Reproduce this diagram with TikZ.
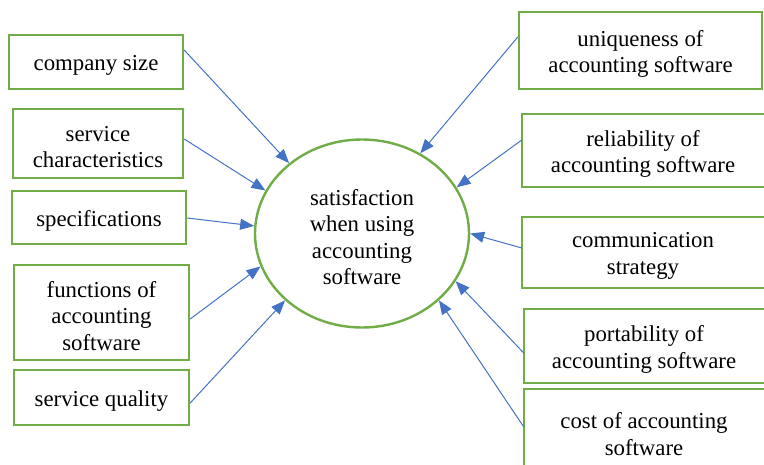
\documentclass[tikz,border=0pt]{standalone}
\usepackage{fontspec}
\setmainfont{Liberation Serif}
\usetikzlibrary{arrows.meta,shapes.geometric}
\definecolor{boxgreen}{HTML}{70AD47}
\definecolor{arrowblue}{HTML}{4472C4}
\begin{document}
\begin{tikzpicture}[x=1pt,y=-1pt,
  lbl/.style={font=\fontsize{22.8}{26.3}\selectfont, align=center, inner sep=0pt},
  txt/.style={label={[lbl,yshift=-3.5pt]center:#1}},
  box/.style={draw=boxgreen, line width=2.4pt, inner sep=0pt},
  slot/.style={inner sep=0pt},
  hub/.style={ellipse, draw=boxgreen, line width=2.4pt, inner sep=0pt,
              minimum width=214pt, minimum height=188pt},
  frame/.style={draw=boxgreen, line width=2.4pt},
  arr/.style={draw=arrowblue, line width=1pt,
              -{Triangle[length=14pt,width=11pt]}}]
\useasboundingbox (0,0) rectangle (764,464);
\clip (0,0) rectangle (764,464);

% central construct
\node[hub, txt={satisfaction\\when using\\accounting\\software}] (c) at (362,233.5) {};

% factors on the left
\node[box, minimum width=174pt, minimum height=54pt, txt={company size}] (l1) at (96,62) {};
\node[box, minimum width=170pt, minimum height=69pt, txt={service\\characteristics}] (l2) at (98,143.5) {};
\node[box, minimum width=174pt, minimum height=53pt, txt={specifications}] (l3) at (99,217.5) {};
\node[box, minimum width=175pt, minimum height=95pt, txt={functions of\\accounting\\software}] (l4) at (101.5,312.5) {};
\node[box, minimum width=175pt, minimum height=55pt, txt={service quality}] (l5) at (101.5,397.5) {};

% factors on the right
\node[box, minimum width=243pt, minimum height=77pt, txt={uniqueness of\\accounting software}] (r1) at (640.5,50.5) {};
\node[slot, minimum width=242pt, minimum height=73pt, txt={reliability of\\accounting software}] (r2) at (643,150.5) {};
\node[slot, minimum width=242pt, minimum height=71pt, txt={communication\\strategy}] (r3) at (643,252.5) {};
\node[slot, minimum width=240pt, minimum height=74pt, txt={portability of\\accounting software}] (r4) at (644,346) {};
\node[slot, minimum width=240pt, minimum height=83pt, txt={cost of accounting\\software}] (r5) at (644,430.5) {};

% right-hand frames run off the page edge
\foreach \n in {r2,r3,r4,r5}
  \draw[frame] ([xshift=30pt]\n.north east) -- (\n.north west)
               -- (\n.south west) -- ([xshift=30pt]\n.south east);

% influences
\draw[arr] (l1.east |- 0,50)  -- (c.136);
\draw[arr] (l2.east |- 0,139) -- (c.156);
\draw[arr] (l3.east |- 0,218) -- (c.176.5);
\draw[arr] (l4.east |- 0,319) -- (c.198);
\draw[arr] (l5.east |- 0,403) -- (c.221);
\draw[arr] (r1.west |- 0,37)  -- (c.54);
\draw[arr] (r2.west |- 0,140) -- (c.26.6);
\draw[arr] (r3.west |- 0,248) -- (c.0);
\draw[arr] (r4.west |- 0,353) -- (c.333);
\draw[arr] (r5.west |- 0,427) -- (c.319);
\end{tikzpicture}
\end{document}
